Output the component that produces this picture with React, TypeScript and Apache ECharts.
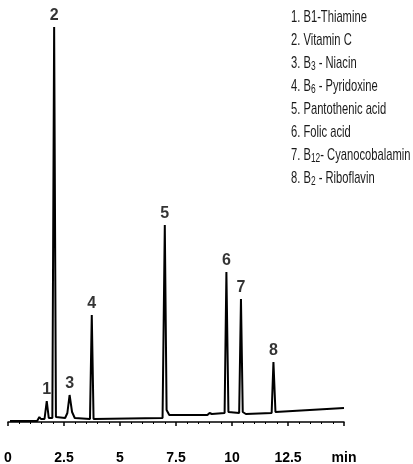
import { useEffect, useRef } from "react";
import * as echarts from "echarts";

// Chromatogram trace: retention time (min) and detector signal (arb. units)
const traceTime = [
  0.09, 1.3, 1.4, 1.47, 1.63, 1.73, 1.82, 1.98, 2.06, 2.14, 2.55, 2.65, 2.75, 2.86, 2.98,
  3.66, 3.74, 3.82, 6.9, 7.0, 7.08, 7.2, 8.9, 9.0, 9.1, 9.67, 9.75, 9.84, 10.32, 10.4,
  10.48, 10.62, 11.77, 11.85, 11.94, 15.0,
];
const traceSignal = [
  1, 1, 5, 3, 3, 21, 4, 4, 395, 5, 4, 9, 27, 10, 4,
  3, 107, 3, 4, 197, 12, 7, 7, 9, 8, 9, 150, 10, 9, 123,
  10, 8, 9, 60, 10, 14,
];

const peakNumbers = ["1", "2", "3", "4", "5", "6", "7", "8"];
const peakTimes = [1.73, 2.06, 2.75, 3.74, 7.0, 9.75, 10.4, 11.85];
const peakHeights = [21, 395, 27, 107, 197, 150, 123, 60];

const compoundLines = [
  "{n|1. B1-Thiamine}",
  "{n|2. Vitamin C}",
  "{n|3. B}{s|3}{n| - Niacin}",
  "{n|4. B}{s|6}{n| - Pyridoxine}",
  "{n|5. Pantothenic acid}",
  "{n|6. Folic acid}",
  "{n|7. B}{s|12}{n|- Cyanocobalamin}",
  "{n|8. B}{s|2}{n| - Riboflavin}",
];

const xMin = 0;
const xMax = 15;
const xInterval = 2.5;
const axisUnitLabel = "min";

const sans = "'Liberation Sans', Arial, sans-serif";

export default function App() {
  const ref = useRef<HTMLDivElement>(null);
  useEffect(() => {
    const chart = echarts.init(ref.current!, null, { renderer: "svg" });
    chart.setOption({
      animation: false,
      grid: { left: 8, right: 69, top: 22, bottom: 21, containLabel: false },
      xAxis: {
        type: "value",
        min: xMin,
        max: xMax,
        interval: xInterval,
        splitLine: { show: false },
        axisLine: { show: true, lineStyle: { color: "#000", width: 1.5 } },
        axisTick: { show: true, length: 4, lineStyle: { color: "#000", width: 1.5 } },
        minorTick: { show: true, splitNumber: 5, length: 2, lineStyle: { color: "#000", width: 1 } },
        axisLabel: {
          margin: 7,
          fontFamily: sans,
          fontWeight: "bold",
          fontSize: 14,
          color: "#000",
          showMaxLabel: true,
          formatter: (v: number) => (v === xMax ? axisUnitLabel : String(v)),
        },
      },
      yAxis: {
        type: "value",
        min: -21,
        max: 400,
        show: false,
        splitLine: { show: false },
      },
      series: [
        {
          type: "line",
          data: traceTime.map((t, i) => [t, traceSignal[i]]),
          symbol: "none",
          lineStyle: { color: "#000", width: 2 },
          z: 2,
        },
        {
          type: "scatter",
          data: peakTimes.map((t, i) => [t, peakHeights[i], peakNumbers[i]]),
          symbolSize: 1,
          itemStyle: { color: "rgba(0,0,0,0)" },
          label: {
            show: true,
            position: "top",
            distance: 4,
            formatter: (p: any) => p.value[2],
            fontFamily: sans,
            fontWeight: "bold",
            fontSize: 16,
            color: "#000",
          },
          z: 3,
        },
      ],
      graphic: compoundLines.map((s, i) => ({
        type: "text",
        x: 291,
        y: 16 + i * 23.1,
        scaleX: 0.7,
        style: {
          text: s,
          verticalAlign: "middle",
          align: "left",
          fill: "#1a1a1a",
          rich: {
            n: { fontFamily: sans, fontSize: 16, lineHeight: 19, verticalAlign: "middle", fill: "#1a1a1a" },
            s: { fontFamily: sans, fontSize: 12, lineHeight: 11, verticalAlign: "bottom", fill: "#1a1a1a" },
          },
        },
      })),
    });
    return () => chart.dispose();
  }, []);
  return <div ref={ref} style={{ position: "fixed", left: 0, top: 0, width: 413, height: 464 }} />;
}
